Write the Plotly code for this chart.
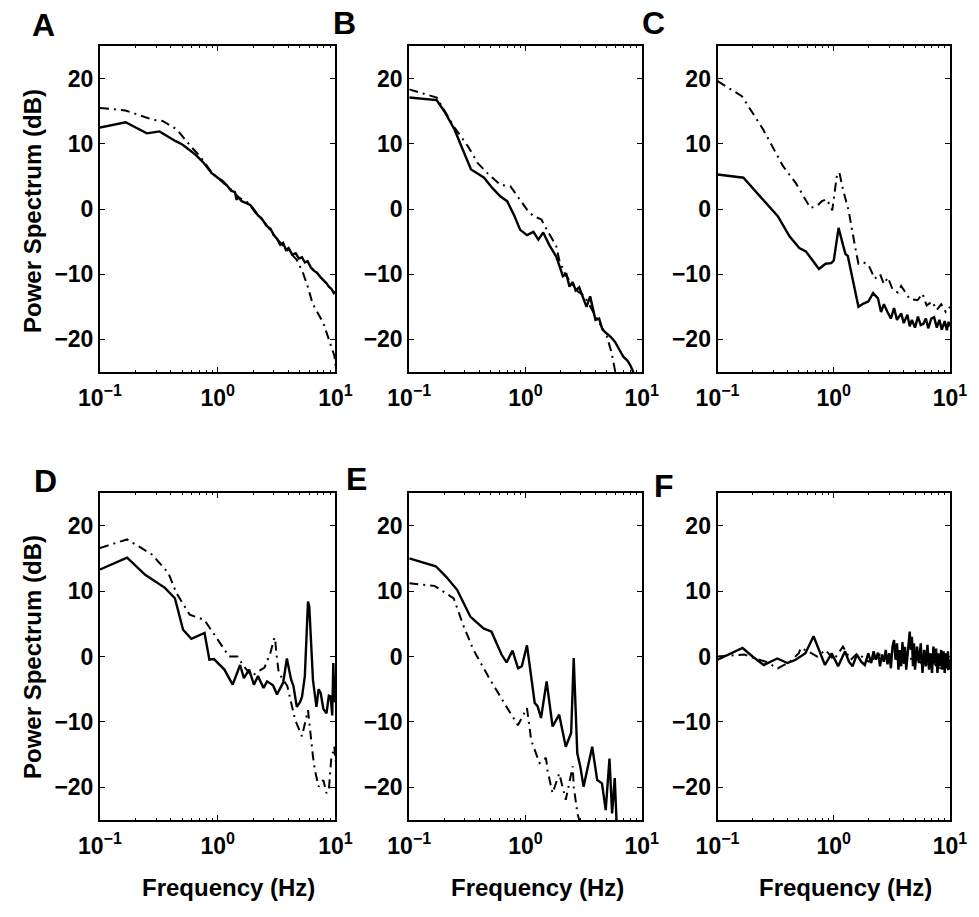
import plotly.graph_objects as go
from plotly.subplots import make_subplots

# ---------------- data ----------------
A_f_solid = [0.1, 0.165, 0.25, 0.32, 0.44, 0.5, 0.58, 0.65, 0.75, 0.89, 1.0, 1.1, 1.2, 1.3, 1.4, 1.45, 1.48,
             1.6, 1.75, 1.9, 2.05, 2.2, 2.35, 2.45, 2.6, 2.8, 3.0, 3.2, 3.4, 3.6, 3.8, 4.0, 4.3, 4.6, 4.9,
             5.2, 5.5, 5.8, 6.2, 6.6, 7.0, 7.5, 7.9, 8.4, 8.8, 9.3, 9.7, 10.0]
A_solid = [12.5, 13.3, 11.6, 11.9, 10.4, 9.9, 9.0, 8.3, 7.2, 5.5, 4.8, 4.3, 3.6, 2.8, 2.6, 1.4, 1.9,
           1.2, 0.9, 0.6, -0.2, -1.0, -1.4, -1.9, -2.6, -3.0, -4.0, -4.6, -5.5, -5.2, -6.3, -6.0, -7.0, -6.8, -7.6,
           -7.4, -8.2, -8.0, -9.0, -9.5, -9.8, -10.5, -10.9, -11.4, -11.9, -12.3, -12.9, -12.7]
A_f_dash = [0.1, 0.165, 0.28, 0.34, 0.45, 0.59, 0.7, 0.89, 1.1, 1.3, 1.5, 1.8, 2.1, 2.5, 3.0, 3.5, 4.0,
            4.7, 5.3, 5.8, 6.4, 7.0, 7.9, 8.8, 9.8, 10.0]
A_dash = [15.5, 15.1, 13.7, 13.5, 12.2, 9.6, 8.2, 5.6, 4.1, 3.0, 1.8, 1.0, -0.6, -2.0, -4.1, -5.4, -6.5,
          -7.8, -9.8, -11.8, -14.5, -15.8, -17.5, -20.0, -22.5, -24.0]

B_f_solid = [0.1, 0.172, 0.2, 0.245, 0.29, 0.34, 0.39, 0.44, 0.52, 0.61, 0.695, 0.8, 0.9, 1.03, 1.17, 1.29,
             1.42, 1.6, 1.84, 1.95, 2.1, 2.25, 2.39, 2.55, 2.7, 2.9, 3.1, 3.35, 3.6, 3.8, 4.0, 4.3, 4.6, 5.0,
             5.4, 5.9, 6.4, 6.97, 7.5, 8.0, 8.7]
B_solid = [17.1, 16.7, 15.0, 12.2, 9.0, 6.05, 5.4, 4.8, 3.2, 1.9, 1.2, -1.0, -3.2, -4.0, -3.5, -4.7,
           -3.6, -5.5, -7.3, -8.5, -10.3, -10.0, -11.9, -11.2, -12.5, -12.0, -13.5, -15.0, -13.4, -15.5, -17.0,
           -16.8, -18.5, -19.1, -19.6, -20.4, -21.5, -22.7, -23.2, -24.0, -25.5]
B_f_dash = [0.1, 0.172, 0.245, 0.32, 0.39, 0.47, 0.61, 0.74, 0.85, 1.03, 1.17, 1.37, 1.53, 1.84, 1.95, 2.2,
            2.5, 2.8, 3.2, 3.6, 4.0, 4.5, 5.0, 5.5, 6.0]
B_dash = [18.35, 17.1, 12.5, 9.6, 7.0, 5.5, 3.7, 3.5, 2.0, -0.1, -1.1, -1.6, -3.2, -5.7, -7.8, -10.0,
          -11.5, -12.6, -13.3, -15.0, -16.5, -18.0, -19.5, -22.0, -25.5]

C_f_solid = [0.1, 0.167, 0.247, 0.33, 0.416, 0.505, 0.575, 0.65, 0.746, 0.85, 0.95, 1.0, 1.1, 1.2, 1.26,
             1.32, 1.45, 1.63, 1.8, 1.98, 2.18, 2.4, 2.55, 2.7, 2.9, 3.1, 3.3, 3.5, 3.8, 4.0, 4.3, 4.5, 4.7,
             5.0, 5.3, 5.6, 5.9, 6.2, 6.5, 6.9, 7.3, 7.7, 8.1, 8.5, 9.0, 9.4, 9.7, 10.0]
C_solid = [5.3, 4.8, 1.4, -1.1, -4.2, -6.0, -6.5, -7.8, -9.2, -8.4, -8.3, -7.9, -2.9, -5.5, -6.9,
           -7.2, -10.5, -15.0, -14.5, -14.2, -12.9, -13.7, -15.8, -14.6, -15.8, -16.8, -15.2, -17.0, -16.0,
           -17.5, -16.2, -18.0, -17.0, -18.2, -16.5, -17.8, -17.6, -16.8, -18.3, -16.8, -16.6, -18.2, -17.0,
           -18.5, -17.2, -18.6, -17.3, -18.0]
C_f_dash = [0.1, 0.162, 0.247, 0.365, 0.47, 0.63, 0.72, 0.79, 0.87, 0.97, 1.07, 1.12, 1.2, 1.34, 1.53, 1.63,
            1.8, 1.98, 2.25, 2.5, 2.7, 2.92, 3.2, 3.55, 3.8, 4.15, 4.5, 5.25, 5.8, 6.3, 7.0, 7.7, 8.4, 9.2, 10.0]
C_dash = [19.6, 17.3, 12.2, 6.6, 4.0, 0.15, 0.5, 1.2, 1.5, -0.2, 5.5, 5.5, 3.0, -0.2, -5.9, -8.4,
          -8.2, -8.5, -10.7, -10.0, -11.5, -10.5, -12.3, -12.8, -11.8, -12.8, -13.8, -14.0, -13.0, -14.8,
          -14.2, -15.5, -14.6, -15.8, -15.0]

D_f_solid = [0.1, 0.17, 0.242, 0.356, 0.433, 0.508, 0.597, 0.773, 0.85, 0.93, 1.14, 1.34, 1.55, 1.67, 1.85,
             2.03, 2.2, 2.45, 2.63, 2.95, 3.19, 3.6, 3.87, 4.2, 4.4, 4.7, 5.0, 5.2, 5.5, 5.7, 5.85, 6.0, 6.2,
             6.45, 6.9, 7.2, 7.5, 7.9, 8.4, 8.8, 9.1, 9.4, 9.6, 9.8, 10.0]
D_solid = [13.3, 15.1, 12.5, 10.5, 8.9, 4.1, 2.7, 3.6, -0.5, -0.4, -2.0, -4.3, -1.3, -3.3, -2.0,
           -4.3, -3.0, -4.8, -3.8, -4.4, -5.8, -4.0, -0.3, -3.5, -4.5, -7.7, -7.0, -6.2, -3.0, 5.6, 8.4, 7.6,
           2.0, -3.6, -7.7, -5.0, -5.6, -8.0, -8.7, -6.0, -6.1, -9.0, -1.0, -7.0, -3.0]
D_f_dash = [0.1, 0.17, 0.276, 0.38, 0.446, 0.578, 0.77, 1.0, 1.25, 1.47, 1.67, 1.95, 2.2, 2.5, 2.8, 3.0,
            3.07, 3.15, 3.3, 3.9, 4.55, 5.2, 5.85, 6.45, 6.7, 7.2, 7.9, 8.4, 8.8, 9.2, 9.8, 10.0]
D_dash = [16.6, 17.9, 15.6, 12.8, 9.7, 6.4, 5.6, 2.6, 0.0, 0.0, -1.5, -3.0, -2.3, -1.7, 0.5, 2.6,
          2.9, 0.5, -2.5, -4.5, -9.7, -12.2, -8.2, -15.3, -17.4, -19.9, -18.9, -20.9, -20.4, -15.8, -13.8, -16.0]

E_f_solid = [0.1, 0.169, 0.205, 0.258, 0.335, 0.435, 0.51, 0.622, 0.687, 0.773, 0.863, 0.93, 1.03, 1.2,
             1.27, 1.36, 1.52, 1.71, 1.95, 2.22, 2.47, 2.6, 2.79, 2.96, 3.16, 3.75, 4.14, 4.55, 4.9, 5.28,
             5.56, 5.86, 6.1]
E_solid = [15.0, 13.8, 12.3, 10.2, 6.1, 4.3, 3.8, 0.3, -0.9, 0.9, -1.8, -1.5, 1.7, -7.1,
           -7.6, -9.4, -3.8, -10.7, -8.9, -13.8, -11.7, -0.25, -14.8, -16.8, -19.9, -13.8, -18.9, -19.4,
           -23.5, -15.6, -24.0, -18.6, -26.0]
E_f_dash = [0.1, 0.165, 0.241, 0.294, 0.357, 0.48, 0.687, 0.86, 1.03, 1.12, 1.32, 1.5, 1.55, 1.71, 1.95,
            2.22, 2.55, 2.6, 2.8, 3.0]
E_dash = [11.2, 10.8, 8.9, 4.6, 1.0, -3.1, -7.7, -10.5, -7.9, -12.8, -16.3, -15.5, -17.5, -20.9, -17.9,
          -21.9, -16.8, -19.9, -24.0, -26.0]

F_f_solid = [0.1, 0.164, 0.2, 0.25, 0.326, 0.4, 0.47, 0.57, 0.67, 0.75, 0.84, 0.96, 1.09, 1.25, 1.35, 1.45,
             1.58, 1.72, 1.85, 1.98, 2.1, 2.2, 2.3, 2.4, 2.5, 2.6, 2.7, 2.8, 2.9, 3.0, 3.1, 3.2, 3.3, 3.4,
             3.5, 3.6, 3.7, 3.8, 3.9, 4.0, 4.1, 4.2, 4.35, 4.5, 4.6, 4.7, 4.8, 4.9, 5.0, 5.2, 5.4, 5.6, 5.8,
             6.0, 6.2, 6.4, 6.6, 6.8, 7.0, 7.2, 7.4, 7.6, 7.8, 8.0, 8.2, 8.4, 8.6, 8.8, 9.0, 9.2, 9.4, 9.6,
             9.8, 10.0]
F_solid = [-0.5, 1.3, 0.0, -1.3, -0.3, -1.0, -0.5, 0.5, 3.1, 1.0, -1.3, 0.5, -1.5, 0.8, -0.8, -1.5,
           0.3, -0.8, -1.3, 0.5, -1.0, 0.8, -0.5, 0.6, -1.5, 0.3, -0.8, 1.0, -1.2, 0.5, -1.8, 1.5, 2.5, -0.5,
           2.0, -2.0, 1.0, -1.5, 2.2, -1.0, 1.5, -2.0, 0.5, 3.8, 1.0, 3.0, -1.5, 2.0, -2.0, 1.5, -1.0, 2.0,
           -2.5, 1.0, -1.5, 1.8, -2.0, 0.5, -2.5, 1.5, -1.0, 1.2, -2.5, 0.5, -1.5, 1.0, -2.0, 0.8, -2.5, 0.5,
           -1.8, 0.8, -2.0, -0.5]
F_f_dash = [0.1, 0.17, 0.21, 0.26, 0.33, 0.42, 0.5, 0.52, 0.6, 0.72, 0.85, 1.0, 1.2, 1.4, 1.6, 2.0, 2.5,
            3.0, 3.5, 4.0, 5.0, 6.0, 7.0, 8.0, 9.0, 10.0]
F_dash = [0.0, 0.3, -0.3, -0.8, -1.8, -0.8, 0.5, 1.3, 0.8, 0.0, 1.0, -0.5, 1.5, -0.5, 0.5, -0.8, 0.3,
          -0.5, 0.5, -1.0, 0.0, -1.5, -0.5, -2.0, -1.0, -2.5]

panel_letters = ["A", "B", "C", "D", "E", "F"]
x_tickvals = [0.1, 1, 10]
x_ticktext = ["10<sup>\u22121</sup>", "10<sup>0</sup>", "10<sup>1</sup>"]
x_minor_tickvals = [0.2, 0.3, 0.4, 0.5, 0.6, 0.7, 0.8, 0.9, 2, 3, 4, 5, 6, 7, 8, 9]
y_tickvals = [-20, -10, 0, 10, 20]

panels = [
    (A_f_solid, A_solid, A_f_dash, A_dash),
    (B_f_solid, B_solid, B_f_dash, B_dash),
    (C_f_solid, C_solid, C_f_dash, C_dash),
    (D_f_solid, D_solid, D_f_dash, D_dash),
    (E_f_solid, E_solid, E_f_dash, E_dash),
    (F_f_solid, F_solid, F_f_dash, F_dash),
]

# ---------------- figure ----------------
W, H = 979, 917
ML, MR, MT, MB = 100, 16, 46, 97
PW, PH = W - ML - MR, H - MT - MB

def px_x(px):
    return (px - ML) / PW

def px_y(py):
    return (H - MB - py) / PH

col_px = [(100, 339), (414, 650), (727, 963)]
row_px = [(46, 372), (493, 820)]

FONT = "Liberation Sans, Arial, Helvetica, sans-serif"

fig = make_subplots(rows=2, cols=3)

for i, (fs, ys, fd, yd) in enumerate(panels):
    r, c = i // 3 + 1, i % 3 + 1
    fig.add_trace(go.Scatter(x=fd, y=yd, mode="lines",
                             line=dict(color="black", width=2, dash="9px,5px,2px,5px"),
                             showlegend=False, hoverinfo="skip"), row=r, col=c)
    fig.add_trace(go.Scatter(x=fs, y=ys, mode="lines",
                             line=dict(color="black", width=2.4),
                             showlegend=False, hoverinfo="skip"), row=r, col=c)

axfont = dict(family=FONT, size=23, color="black", weight="bold")
for i in range(6):
    r, c = i // 3, i % 3
    x0, x1 = col_px[c]
    y0, y1 = row_px[r]
    fig.update_xaxes(type="log", range=[-1, 1], domain=[px_x(x0), px_x(x1)],
                     tickvals=x_tickvals, ticktext=x_ticktext,
                     ticks="inside", ticklen=5, tickwidth=1.2, tickcolor="black",
                     showline=True, linecolor="black", linewidth=2, mirror="ticks",
                     showgrid=False, zeroline=False, tickfont=axfont, ticklabelstandoff=4,
                     minor=dict(tickvals=x_minor_tickvals, ticks="inside", ticklen=2,
                                tickwidth=1, tickcolor="black", showgrid=False),
                     row=r + 1, col=c + 1)
    fig.update_yaxes(range=[-25, 25], domain=[px_y(y1), px_y(y0)],
                     tickvals=y_tickvals,
                     ticks="inside", ticklen=5, tickwidth=1.2, tickcolor="black",
                     showline=True, linecolor="black", linewidth=2, mirror="ticks",
                     showgrid=False, zeroline=False, tickfont=axfont,
                     row=r + 1, col=c + 1)

annots = []
letter_pos = [(43, 25), (348, 23), (662, 23), (45, 481), (360, 479), (673, 486)]
for L, (lx, ly) in zip(panel_letters, letter_pos):
    annots.append(dict(text=L, x=px_x(lx), y=px_y(ly), xref="paper", yref="paper",
                       xanchor="center", yanchor="middle", showarrow=False,
                       font=dict(family=FONT, size=32, color="black", weight="bold")))
for cy in (211, 657):
    annots.append(dict(text="Power Spectrum (dB)", x=px_x(31), y=px_y(cy), xref="paper", yref="paper",
                       xanchor="center", yanchor="middle", showarrow=False, textangle=-90,
                       font=dict(family=FONT, size=24, color="black", weight="bold")))
for cx in (230, 544, 857):
    annots.append(dict(text="Frequency (Hz)", x=px_x(cx), y=px_y(887), xref="paper", yref="paper",
                       xanchor="center", yanchor="middle", showarrow=False,
                       font=dict(family=FONT, size=24, color="black", weight="bold")))

fig.update_layout(width=W, height=H, margin=dict(l=ML, r=MR, t=MT, b=MB),
                  paper_bgcolor="white", plot_bgcolor="white",
                  annotations=annots, showlegend=False)

fig.write_html("out.html")
